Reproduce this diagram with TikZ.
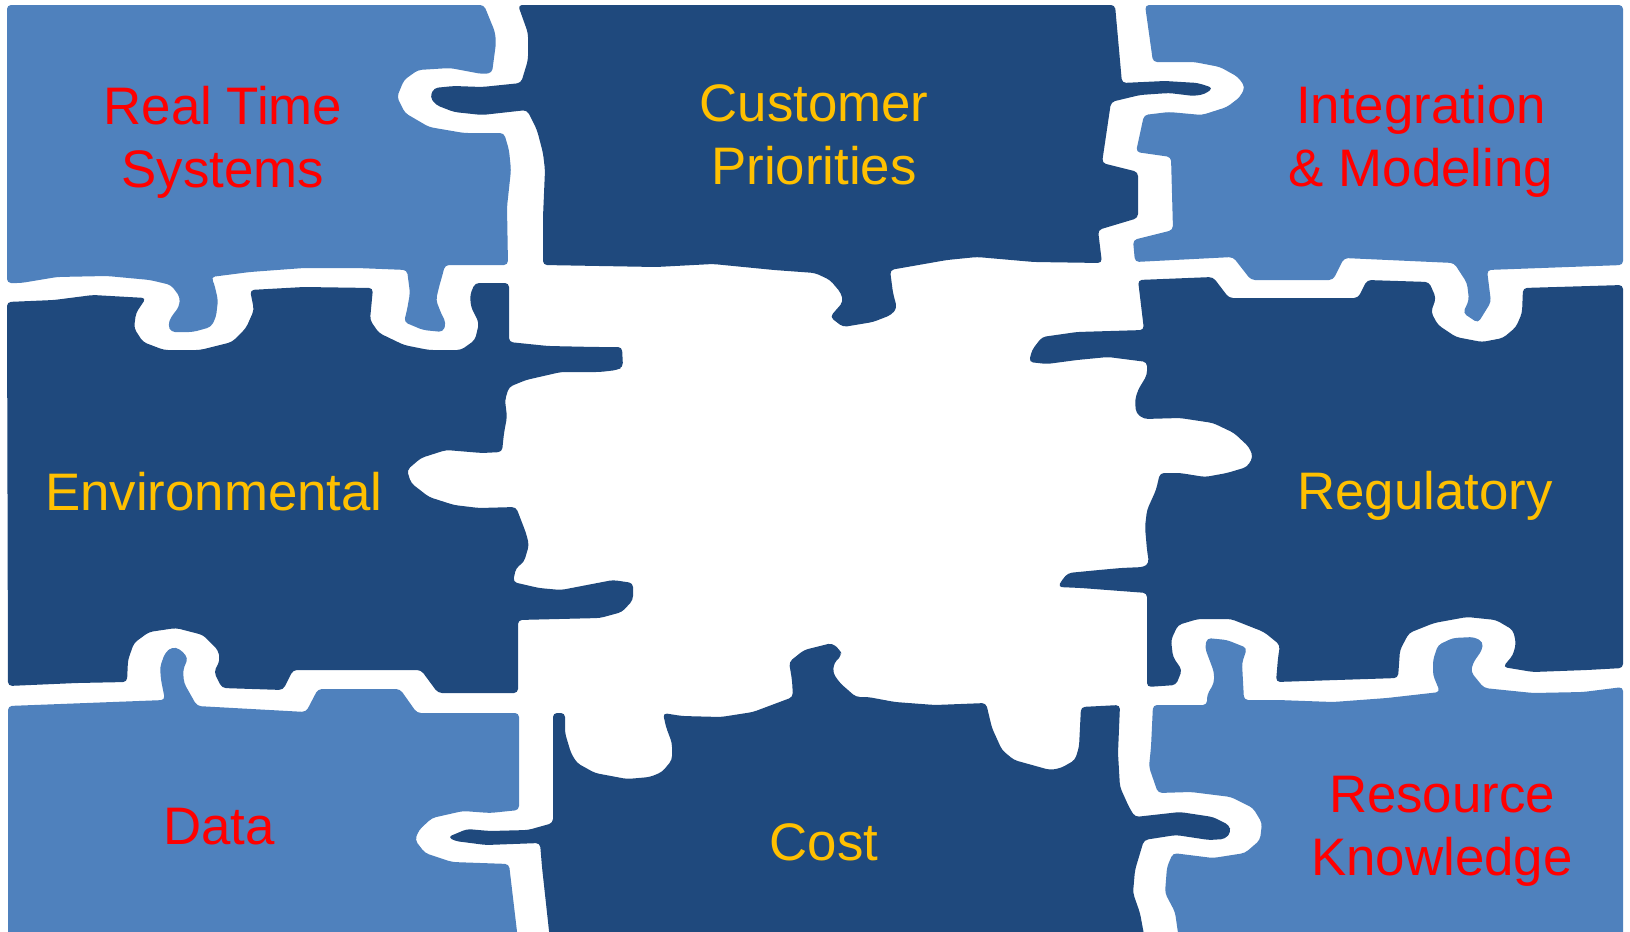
\documentclass[tikz,border=0pt]{standalone}
\usepackage{fontspec}
\setmainfont{Liberation Sans}
\definecolor{lightpiece}{HTML}{4F81BD}
\definecolor{darkpiece}{HTML}{1F497D}
\definecolor{goldtext}{HTML}{FFC000}
\definecolor{redtext}{HTML}{FF0000}
\begin{document}
\begin{tikzpicture}[x=1bp,y=-1bp,line join=bevel,
  lightfill/.style={fill=lightpiece,rounded corners=4bp},
  darkfill/.style={fill=darkpiece,rounded corners=4bp},
  piecetext/.style={align=center,anchor=base,inner sep=0pt,font=\fontsize{53}{63}\selectfont}]
\useasboundingbox (0,0) rectangle (1630,931);
%%
\fill[lightfill] (7,5) -- (484,5) -- (495,32) -- (496,43) -- (492,73) -- (482,74) -- (450,68) -- (418,70) -- (404,80) -- (397,97) -- (405,113) -- (429,127) -- (464,133) -- (504,133) -- (509,150) -- (511,170) -- (507,207) -- (508,265) -- (445,265) -- (443,273) -- (439,287) -- (436,300) -- (441,313) -- (446,323) -- (443,332) -- (423,330) -- (404,322) -- (407,310) -- (410,293) -- (407,270) -- (357,268) -- (304,268) -- (250,272) -- (211,277) -- (214,283) -- (218,300) -- (216,317) -- (211,327) -- (193,332) -- (171,332) -- (168,325) -- (171,317) -- (179,307) -- (180,297) -- (171,285) -- (150,280) -- (107,276) -- (57,277) -- (21,283) -- (7,283) -- cycle;
  \fill[darkfill] (518,5) -- (1115,5) -- (1122,83) -- (1165,81) -- (1198,83) -- (1213,88) -- (1205,94) -- (1194,96) -- (1169,93) -- (1140,95) -- (1111,102) -- (1102,163) -- (1138,172) -- (1138,218) -- (1098,230) -- (1102,263) -- (1034,262) -- (977,257) -- (947,260) -- (890,270) -- (893,293) -- (897,308) -- (891,315) -- (873,322) -- (843,327) -- (830,317) -- (836,310) -- (843,302) -- (841,293) -- (830,280) -- (815,273) -- (774,270) -- (713,264) -- (656,267) -- (543,265) -- (543,217) -- (545,170) -- (543,153) -- (537,130) -- (527,110) -- (482,115) -- (454,112) -- (436,105) -- (430,97) -- (434,88) -- (454,86) -- (482,87) -- (521,83) -- (528,60) -- (528,33) -- cycle;
  \fill[lightfill] (1145,5) -- (1623,5) -- (1623,265) -- (1487,270) -- (1491,302) -- (1478,323) -- (1463,313) -- (1469,300) -- (1467,283) -- (1454,263) -- (1344,258) -- (1333,280) -- (1251,280) -- (1233,257) -- (1135,262) -- (1133,240) -- (1173,230) -- (1171,157) -- (1136,152) -- (1144,115) -- (1169,112) -- (1202,115) -- (1227,107) -- (1240,97) -- (1245,87) -- (1238,77) -- (1220,67) -- (1194,62) -- (1153,62) -- cycle;
%
\fill[darkfill] (7,302) -- (54,300) -- (93,295) -- (146,298) -- (136,313) -- (134,328) -- (143,342) -- (164,350) -- (200,350) -- (232,342) -- (246,328) -- (254,310) -- (250,290) -- (304,287) -- (373,288) -- (370,320) -- (379,333) -- (404,345) -- (429,350) -- (461,350) -- (475,340) -- (479,323) -- (471,307) -- (470,295) -- (475,283) -- (509,283) -- (509,342) -- (548,346) -- (596,347) -- (622,347) -- (623,367) -- (617,370) -- (600,372) -- (561,372) -- (526,380) -- (509,387) -- (505,400) -- (507,417) -- (504,433) -- (502,452) -- (482,453) -- (446,450) -- (421,458) -- (407,470) -- (411,483) -- (429,497) -- (454,505) -- (479,508) -- (516,507) -- (526,533) -- (529,545) -- (524,562) -- (516,568) -- (513,582) -- (539,588) -- (561,590) -- (587,585) -- (613,580) -- (633,583) -- (633,600) -- (622,612) -- (600,618) -- (518,620) -- (518,693) -- (438,693) -- (421,670) -- (293,670) -- (283,690) -- (222,688) -- (214,672) -- (220,660) -- (218,650) -- (203,635) -- (176,628) -- (149,632) -- (134,643) -- (128,660) -- (127,682) -- (77,683) -- (8,686) -- cycle;
  \fill[darkfill] (1138,280) -- (1213,277) -- (1229,298) -- (1358,298) -- (1367,280) -- (1429,282) -- (1436,298) -- (1431,312) -- (1438,325) -- (1456,337) -- (1482,342) -- (1503,338) -- (1516,327) -- (1522,313) -- (1523,288) -- (1623,285) -- (1623,668) -- (1587,670) -- (1533,672) -- (1503,667) -- (1513,655) -- (1516,643) -- (1513,630) -- (1496,620) -- (1467,617) -- (1434,623) -- (1409,633) -- (1400,650) -- (1398,678) -- (1276,682) -- (1278,658) -- (1280,645) -- (1264,632) -- (1231,619) -- (1198,619) -- (1178,625) -- (1171,640) -- (1173,657) -- (1182,670) -- (1176,685) -- (1147,687) -- (1147,593) -- (1081,588) -- (1058,587) -- (1062,580) -- (1068,573) -- (1099,570) -- (1121,568) -- (1144,567) -- (1149,563) -- (1147,550) -- (1145,527) -- (1147,510) -- (1156,490) -- (1160,473) -- (1180,473) -- (1205,477) -- (1227,473) -- (1247,467) -- (1253,457) -- (1249,447) -- (1234,433) -- (1213,423) -- (1180,418) -- (1144,419) -- (1136,413) -- (1135,400) -- (1138,390) -- (1147,375) -- (1147,362) -- (1108,357) -- (1077,360) -- (1047,364) -- (1029,362) -- (1032,350) -- (1042,337) -- (1077,332) -- (1144,330) -- cycle;
%
\fill[lightfill] (8,706) -- (165,700) -- (161,680) -- (160,667) -- (165,653) -- (172,647) -- (180,649) -- (188,658) -- (183,670) -- (184,683) -- (197,706) -- (306,712) -- (318,689) -- (400,689) -- (417,713) -- (519,713) -- (519,810) -- (490,813) -- (463,811) -- (432,818) -- (419,830) -- (415,840) -- (425,853) -- (452,862) -- (509,864) -- (518,940) -- (8,940) -- cycle;
  \fill[darkfill] (553,713) -- (565,713) -- (565,733) -- (571,753) -- (577,763) -- (595,773) -- (627,779) -- (650,777) -- (662,772) -- (672,760) -- (672,743) -- (666,727) -- (663,713) -- (682,716) -- (721,717) -- (753,712) -- (777,703) -- (793,697) -- (792,680) -- (789,662) -- (804,650) -- (832,643) -- (840,650) -- (842,655) -- (834,663) -- (833,673) -- (840,683) -- (856,697) -- (868,697) -- (895,702) -- (935,705) -- (986,703) -- (992,728) -- (1002,750) -- (1014,760) -- (1050,770) -- (1061,768) -- (1075,760) -- (1079,747) -- (1081,707) -- (1120,705) -- (1118,753) -- (1120,787) -- (1129,807) -- (1135,817) -- (1180,812) -- (1213,817) -- (1229,825) -- (1231,832) -- (1225,839) -- (1209,840) -- (1176,835) -- (1144,840) -- (1135,870) -- (1133,893) -- (1140,913) -- (1145,940) -- (550,940) -- (542,867) -- (540,843) -- (486,845) -- (455,841) -- (448,837) -- (467,829) -- (490,831) -- (528,830) -- (553,823) -- cycle;
  \fill[lightfill] (1153,705) -- (1207,705) -- (1207,695) -- (1214,683) -- (1214,672) -- (1205,648) -- (1207,638) -- (1227,640) -- (1247,648) -- (1242,663) -- (1244,700) -- (1278,700) -- (1333,702) -- (1387,698) -- (1440,692) -- (1433,675) -- (1433,660) -- (1438,645) -- (1453,638) -- (1474,637) -- (1483,642) -- (1482,650) -- (1473,663) -- (1471,672) -- (1484,688) -- (1533,693) -- (1583,692) -- (1623,687) -- (1623,940) -- (1179,940) -- (1175,912) -- (1165,893) -- (1167,867) -- (1173,853) -- (1213,858) -- (1245,853) -- (1260,840) -- (1262,823) -- (1253,808) -- (1231,797) -- (1191,792) -- (1158,793) -- (1149,767) -- (1151,747) -- cycle;
%%
\node (node_realtime) at (223,187) [piecetext,text=redtext] {Real Time\\Systems};
  \node (node_customer) at (814,184) [piecetext,text=goldtext] {Customer\\Priorities};
  \node (node_integration) at (1421,186) [piecetext,text=redtext] {Integration\\\& Modeling};
  \node (node_environmental) at (214,510) [piecetext,text=goldtext] {Environmental};
  \node (node_regulatory) at (1425,509) [piecetext,text=goldtext] {Regulatory};
  \node (node_data) at (219,844) [piecetext,text=redtext] {Data};
  \node (node_cost) at (824,860) [piecetext,text=goldtext] {Cost};
  \node (node_resource) at (1442,875) [piecetext,text=redtext] {Resource\\Knowledge};
%
\end{tikzpicture}
\end{document}
